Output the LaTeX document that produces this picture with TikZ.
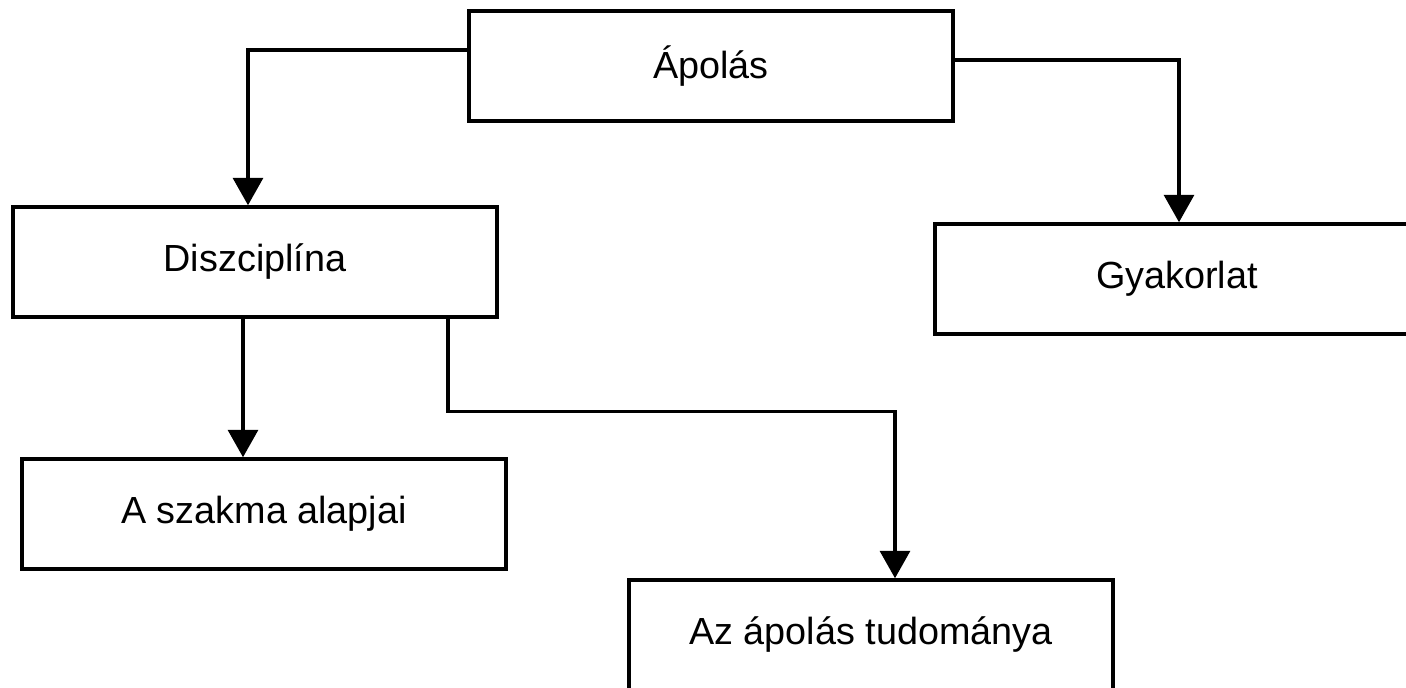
\documentclass[tikz,border=0pt]{standalone}
\usepackage{fontspec}
\setmainfont{Liberation Sans}
\usetikzlibrary{arrows.meta}
\tikzset{
  box/.style={draw,line width=2pt,minimum width=9.68cm,minimum height=2.2cm,
    inner sep=0pt,font=\fontsize{21.5}{26}\selectfont},
  arr/.style={line width=2pt,-{Triangle[width=0.6cm,length=0.55cm]}}
}
\begin{document}
\begin{tikzpicture}[x=0.02cm,y=-0.02cm]
\useasboundingbox (0,0) rectangle (1406,688);
%boxes
\node[box] (apolas) at (711,66) {Ápolás};
\node[box] (diszc) at (255,262) {Diszciplína};
\node[box] (gyak) at (1177,279) {Gyakorlat};
\node[box] (szakma) at (264,514) {A szakma alapjai};
\node[box] (tud) at (871,635) {Az ápolás tudománya};
%arrows
\draw[arr] ([yshift=0.32cm]apolas.west) -| ([xshift=-0.14cm]diszc.north);
\draw[arr] ([yshift=0.12cm]apolas.east) -| ([xshift=0.04cm]gyak.north);
\draw[arr] ([xshift=-0.24cm]diszc.south) -- ([xshift=-0.24cm]diszc.south |- szakma.north);
\draw[arr] ([xshift=3.86cm]diszc.south) -- ++(0,93) -| ([xshift=0.48cm]tud.north);
\end{tikzpicture}
\end{document}
